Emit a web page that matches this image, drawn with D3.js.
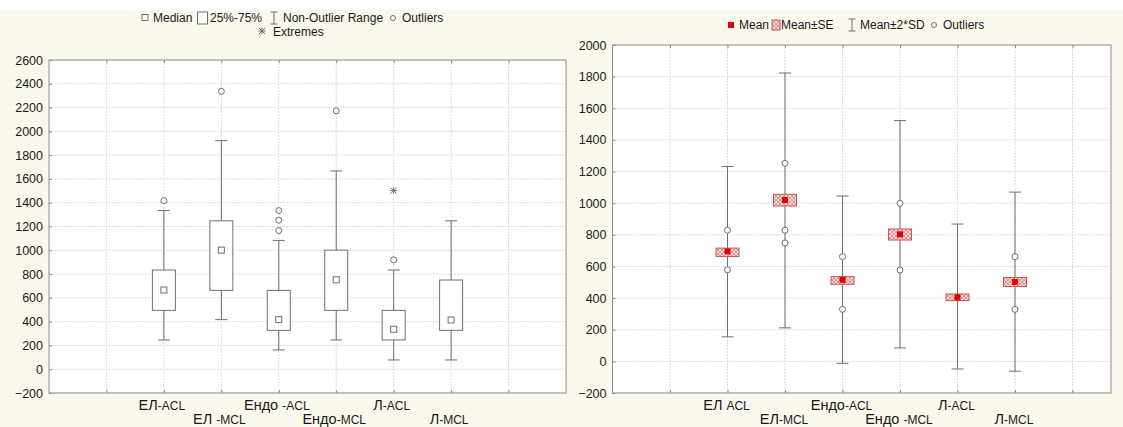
<!DOCTYPE html>
<html><head><meta charset="utf-8">
<script src="https://cdn.jsdelivr.net/npm/d3@7"></script>
<style>body{margin:0;background:#fbf8ee} svg{display:block;font-family:"Liberation Sans",Arial,sans-serif}</style>
</head><body>
<svg id="c" width="1123" height="427"></svg>
<script>
// ---------- data ----------
const categoriesLeft  = ["ЕЛ-ACL","ЕЛ -MCL","Ендо -ACL","Ендо-MCL","Л-ACL","Л-MCL"];
const categoriesRight = ["ЕЛ ACL","ЕЛ-MCL","Ендо-ACL","Ендо -MCL","Л-ACL","Л-MCL"];
const median      = [666, 1001, 417, 752, 336, 414];
const q1          = [495, 663, 327, 495, 246, 327];
const q3          = [834, 1248, 663, 1001, 495, 750];
const whiskerLow  = [246, 417, 162, 246, 78, 78];
const whiskerHigh = [1334, 1922, 1083, 1667, 834, 1248];
const outliersLeft = [[1418],[2336],[1166,1253,1334],[2173],[920],[]];
const extremesLeft = [[],[],[],[],[1502],[]];

const mean   = [695, 1020, 515, 803, 405, 502];
const seLow  = [663, 982, 487, 767, 384, 473];
const seHigh = [716, 1056, 536, 837, 426, 530];
const sdLow  = [155, 212, -12, 85, -48, -62];
const sdHigh = [1232, 1823, 1045, 1522, 868, 1070];
const outliersRight = [[579,829],[749,829,1252],[329,662],[578,999],[],[329,662]];

const yTicksLeft  = d3.range(-200, 2601, 200);
const yTicksRight = d3.range(-200, 2001, 200);
const xTickPositions = [1,2,3,4,5,6,7,8];
const legendLeft1 = ["Median","25%-75%","Non-Outlier Range","Outliers"];
const legendLeft2 = ["Extremes"];
const legendRight = ["Mean","Mean±SE","Mean±2*SD","Outliers"];

// ---------- setup ----------
const svg = d3.select("#c");
const GRAY = "#6f6f6f", FRAME = "#8c8c8c", GRID = "#dcdcdc", TXT = "#1a1a1a";
svg.append("rect").attr("width",1123).attr("height",427).attr("fill","#fbf8ee");
svg.append("rect").attr("width",1123).attr("height",10).attr("fill","#ffffff");

const defs = svg.append("defs");
const pat = defs.append("pattern").attr("id","hatch").attr("patternUnits","userSpaceOnUse")
  .attr("width",4).attr("height",4);
pat.append("rect").attr("width",4).attr("height",4).attr("fill","#f8dede");
pat.append("path").attr("d","M0,0L4,4M4,0L0,4").attr("stroke","#d65a5a").attr("stroke-width",0.6);

function asterisk(g,cx,cy){
  g.append("path").attr("d",`M${cx-3},${cy-3}L${cx+3},${cy+3}M${cx+3},${cy-3}L${cx-3},${cy+3}M${cx},${cy-3.5}L${cx},${cy+3.5}M${cx-3.5},${cy}L${cx+3.5},${cy}`)
    .attr("stroke",GRAY).attr("fill","none");
}

function panel(cfg){
  const {x, y, fx0, fx1, yTicks, labels, labelX} = cfg;
  const g = svg.append("g");
  const clipId = "clip"+cfg.id;
  defs.append("clipPath").attr("id",clipId).append("rect")
    .attr("x",fx0).attr("y",y.range()[1]).attr("width",fx1-fx0).attr("height",y.range()[0]-y.range()[1]);
  g.append("rect").attr("x",fx0).attr("y",y.range()[1]).attr("width",fx1-fx0)
    .attr("height",y.range()[0]-y.range()[1]).attr("fill","#fff");
  const grid = g.append("g").attr("clip-path",`url(#${clipId})`);
  grid.selectAll(".hg").data(yTicks).join("line")
    .attr("x1",fx0).attr("x2",fx1).attr("y1",d=>y(d)).attr("y2",d=>y(d))
    .attr("stroke",GRID).attr("stroke-dasharray","2,1");
  grid.selectAll(".vg").data(xTickPositions).join("line")
    .attr("x1",d=>x(d)).attr("x2",d=>x(d)).attr("y1",y.range()[1]).attr("y2",y.range()[0])
    .attr("stroke",GRID).attr("stroke-dasharray","2,1");
  const ay = g.append("g").attr("transform",`translate(${fx0},0)`)
    .call(d3.axisLeft(y).tickValues(yTicks).tickSize(-3).tickPadding(6).tickFormat(d3.format("d")));
  ay.select(".domain").remove();
  ay.selectAll("line").attr("stroke",FRAME);
  ay.selectAll("text").attr("font-size",12.5).attr("fill",TXT).attr("font-family","Liberation Sans, Arial");
  const ax = g.append("g").attr("transform",`translate(0,${y.range()[0]})`)
    .call(d3.axisBottom(x).tickValues(xTickPositions).tickSize(-3).tickFormat(""));
  ax.select(".domain").remove();
  ax.selectAll("line").attr("stroke",FRAME);
  const at = g.append("g").attr("transform",`translate(0,${y.range()[1]})`)
    .call(d3.axisTop(x).tickValues(xTickPositions).tickSize(-3).tickFormat(""));
  at.select(".domain").remove();
  at.selectAll("line").attr("stroke",FRAME);
  g.append("rect").attr("x",fx0).attr("y",y.range()[1]).attr("width",fx1-fx0)
    .attr("height",y.range()[0]-y.range()[1]).attr("fill","none").attr("stroke",FRAME);
  labels.forEach((lab,i)=>{
    const m = lab.match(/^(.*?)(ACL|MCL)$/);
    const t = g.append("text").attr("x",labelX(i+2)).attr("y", i%2===0 ? 410 : 424)
      .attr("text-anchor","middle").attr("fill",TXT);
    t.append("tspan").attr("font-size",14.5).text(m[1].replace(/-$/,""));
    t.append("tspan").attr("font-size",12).text((m[1].endsWith("-")?"-":"")+m[2]);
  });
  return g;
}

// ---------- left panel ----------
const xL = d3.scaleLinear().domain([0,9]).range([49,566]);
const yL = d3.scaleLinear().domain([-200,2600]).range([393,60]);
const gL = panel({id:"L", x:xL, y:yL, fx0:49, fx1:566, yTicks:yTicksLeft, labels:categoriesLeft, labelX:d=>xL(d)-2});
const BW = 23, CAP = 12;
categoriesLeft.forEach((c,i)=>{
  const cx = xL(i+2);
  gL.append("line").attr("x1",cx).attr("x2",cx).attr("y1",yL(whiskerLow[i])).attr("y2",yL(whiskerHigh[i])).attr("stroke",GRAY);
  [whiskerLow[i],whiskerHigh[i]].forEach(v=>gL.append("line").attr("x1",cx-CAP/2).attr("x2",cx+CAP/2)
    .attr("y1",yL(v)).attr("y2",yL(v)).attr("stroke",GRAY));
  gL.append("rect").attr("x",cx-BW/2).attr("y",yL(q3[i])).attr("width",BW).attr("height",yL(q1[i])-yL(q3[i]))
    .attr("fill","#fff").attr("stroke",GRAY);
  gL.append("rect").attr("x",cx-3).attr("y",yL(median[i])-3).attr("width",6).attr("height",6)
    .attr("fill","#fff").attr("stroke",GRAY);
  outliersLeft[i].forEach(v=>gL.append("circle").attr("cx",cx).attr("cy",yL(v)).attr("r",3)
    .attr("fill","#fff").attr("stroke",GRAY));
  extremesLeft[i].forEach(v=>asterisk(gL,cx,yL(v)));
});

// ---------- right panel ----------
const xR = d3.scaleLinear().domain([0,9]).range([612.5,1130]);
const yR = d3.scaleLinear().domain([-200,2000]).range([393,45]);
const gR = panel({id:"R", x:xR, y:yR, fx0:612.5, fx1:1111, yTicks:yTicksRight, labels:categoriesRight, labelX:d=>xR(d)-1});
categoriesRight.forEach((c,i)=>{
  const cx = xR(i+2);
  gR.append("line").attr("x1",cx).attr("x2",cx).attr("y1",yR(sdLow[i])).attr("y2",yR(sdHigh[i])).attr("stroke",GRAY);
  [sdLow[i],sdHigh[i]].forEach(v=>gR.append("line").attr("x1",cx-CAP/2).attr("x2",cx+CAP/2)
    .attr("y1",yR(v)).attr("y2",yR(v)).attr("stroke",GRAY));
  outliersRight[i].forEach(v=>gR.append("circle").attr("cx",cx).attr("cy",yR(v)).attr("r",3)
    .attr("fill","#fff").attr("stroke",GRAY));
  gR.append("rect").attr("x",cx-BW/2).attr("y",yR(seHigh[i])).attr("width",BW).attr("height",yR(seLow[i])-yR(seHigh[i]))
    .attr("fill","url(#hatch)").attr("stroke","#cc5555");
  gR.append("rect").attr("x",cx-3).attr("y",yR(mean[i])-3).attr("width",6).attr("height",6).attr("fill","#e30000");
});

// ---------- legends ----------
const lg = svg.append("g").attr("font-size",12).attr("fill",TXT);
function ibeam(x,y){ lg.append("path").attr("d",`M${x-3.5},${y-6}H${x+3.5}M${x},${y-6}V${y+6}M${x-3.5},${y+6}H${x+3.5}`).attr("stroke",GRAY).attr("fill","none"); }
const L1 = 18, L2 = 32;
lg.append("rect").attr("x",142).attr("y",L1-3.5).attr("width",6).attr("height",6).attr("fill","#fff").attr("stroke",GRAY);
lg.append("text").attr("x",153).attr("y",L1+4).text(legendLeft1[0]);
lg.append("rect").attr("x",197.5).attr("y",L1-6).attr("width",10).attr("height",12).attr("fill","#fff").attr("stroke",GRAY);
lg.append("text").attr("x",210).attr("y",L1+4).text(legendLeft1[1]);
ibeam(274,L1);
lg.append("text").attr("x",283).attr("y",L1+4).text(legendLeft1[2]);
lg.append("circle").attr("cx",393).attr("cy",L1).attr("r",2.5).attr("fill","#fff").attr("stroke",GRAY);
lg.append("text").attr("x",402).attr("y",L1+4).text(legendLeft1[3]);
asterisk(lg,262,L2-1);
lg.append("text").attr("x",273).attr("y",L2+4).text(legendLeft2[0]);

const R1 = 25;
lg.append("rect").attr("x",728).attr("y",R1-3).attr("width",6).attr("height",6).attr("fill","#e30000");
lg.append("text").attr("x",739).attr("y",R1+4).text(legendRight[0]);
lg.append("rect").attr("x",772).attr("y",R1-5).attr("width",8).attr("height",10).attr("fill","url(#hatch)").attr("stroke","#cc5555");
lg.append("text").attr("x",781).attr("y",R1+4).text(legendRight[1]);
ibeam(852,R1);
lg.append("text").attr("x",860).attr("y",R1+4).text(legendRight[2]);
lg.append("circle").attr("cx",934).attr("cy",R1).attr("r",2.5).attr("fill","#fff").attr("stroke",GRAY);
lg.append("text").attr("x",943).attr("y",R1+4).text(legendRight[3]);
</script>
</body></html>
